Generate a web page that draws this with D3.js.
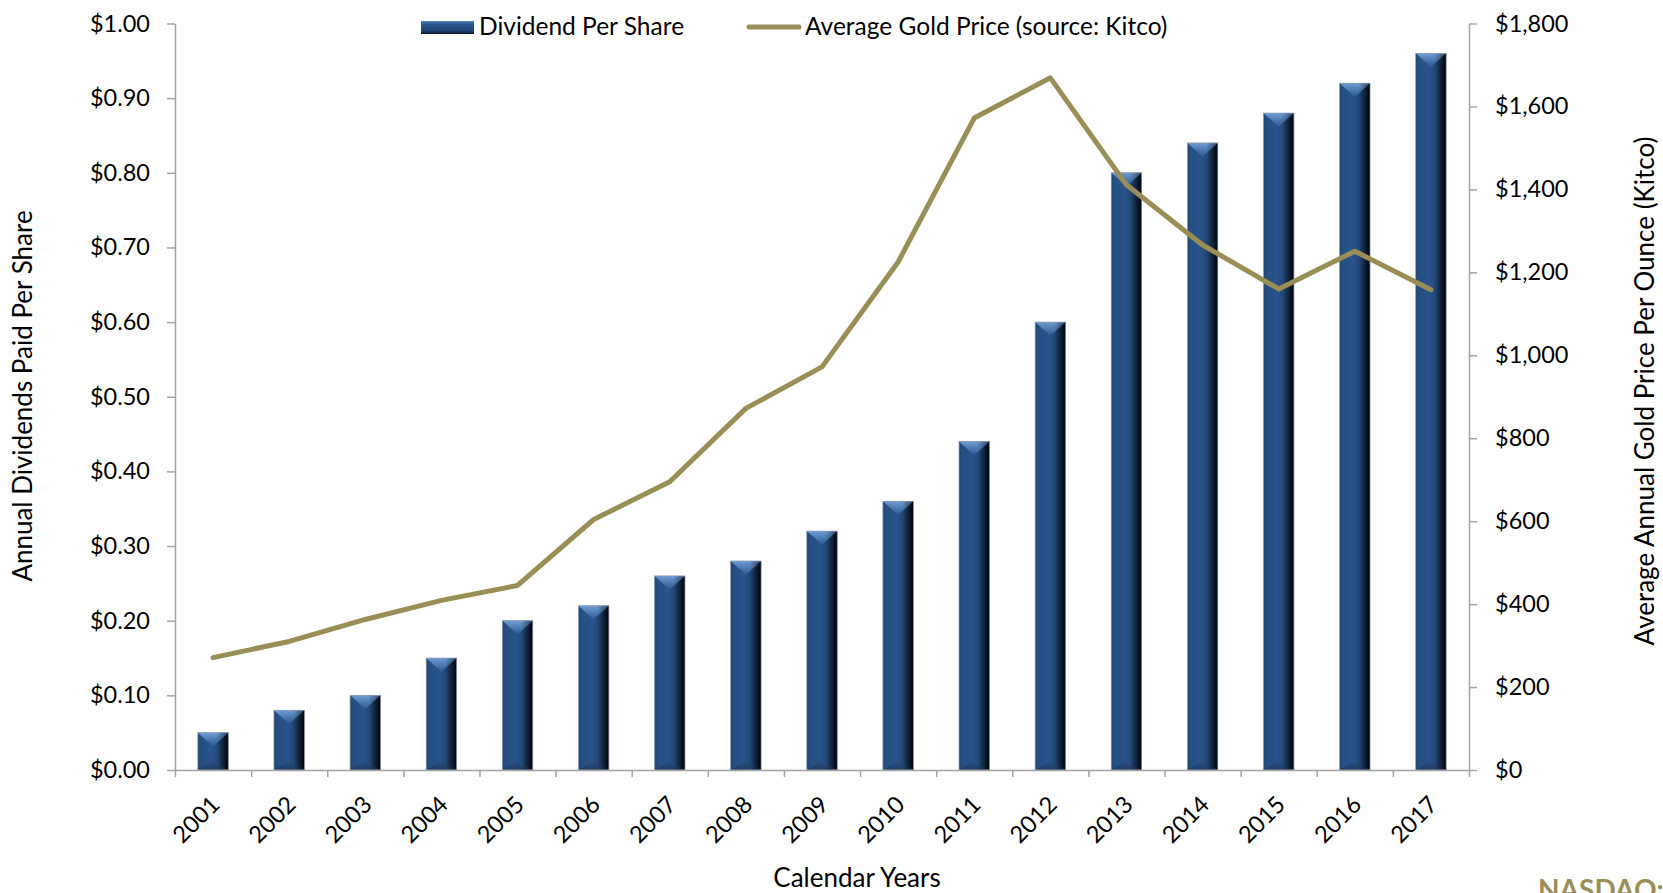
<!DOCTYPE html>
<html>
<head>
<meta charset="utf-8">
<script src="https://cdn.jsdelivr.net/npm/d3@7"></script>
<style>
    body { margin: 0; background: #ffffff; }
    svg text { font-family: Lato, "Open Sans", sans-serif; fill: #000; }
</style>
</head>
<body>
<svg id="chart" width="1663" height="893"></svg>
<script>
// data
var years = ["2001", "2002", "2003", "2004", "2005", "2006", "2007", "2008", "2009",
             "2010", "2011", "2012", "2013", "2014", "2015", "2016", "2017"];
var dividends = [0.05, 0.08, 0.10, 0.15, 0.20, 0.22, 0.26, 0.28, 0.32,
                 0.36, 0.44, 0.60, 0.80, 0.84, 0.88, 0.92, 0.96];
var goldPrice = [271, 310, 363, 409, 445, 604, 695, 872, 972,
                 1225, 1572, 1669, 1411, 1266, 1160, 1251, 1158];
var leftTicks = [0, 0.1, 0.2, 0.3, 0.4, 0.5, 0.6, 0.7, 0.8, 0.9, 1.0];
var rightTicks = [0, 200, 400, 600, 800, 1000, 1200, 1400, 1600, 1800];

var plotLeft = 175, plotRight = 1469, plotTop = 23.5, plotBottom = 770;
var gold = "#9a8e57";
var axisGray = "#a3a3a3";
var tickFont = "23.5px";

var svg = d3.select("#chart");
var defs = svg.append("defs");

// bar body: horizontal shading, dark on the right edge
var gBody = defs.append("linearGradient").attr("id", "barBody")
    .attr("x1", 0).attr("x2", 1).attr("y1", 0).attr("y2", 0);
[["0%", "#22466f"], ["12%", "#264f83"], ["45%", "#29548a"], ["68%", "#214574"],
 ["86%", "#142b4a"], ["100%", "#050c17"]].forEach(function (s) {
    gBody.append("stop").attr("offset", s[0]).attr("stop-color", s[1]);
});

// top bevel chevron
var gTop = defs.append("linearGradient").attr("id", "barTop")
    .attr("x1", 0).attr("x2", 0).attr("y1", 0).attr("y2", 1);
gTop.append("stop").attr("offset", "0%").attr("stop-color", "#6f9cd3");
gTop.append("stop").attr("offset", "100%").attr("stop-color", "#2b5890");

// bottom bevel
var gBot = defs.append("linearGradient").attr("id", "barBot")
    .attr("x1", 0).attr("x2", 0).attr("y1", 0).attr("y2", 1);
gBot.append("stop").attr("offset", "0%").attr("stop-color", "#2a5489");
gBot.append("stop").attr("offset", "100%").attr("stop-color", "#1b3558");

// overlay that darkens the right side (also over the chevron)
var gShade = defs.append("linearGradient").attr("id", "barShade")
    .attr("x1", 0).attr("x2", 1).attr("y1", 0).attr("y2", 0);
gShade.append("stop").attr("offset", "0%").attr("stop-color", "#000").attr("stop-opacity", 0);
gShade.append("stop").attr("offset", "62%").attr("stop-color", "#000").attr("stop-opacity", 0);
gShade.append("stop").attr("offset", "100%").attr("stop-color", "#000").attr("stop-opacity", 0.55);

// legend swatch
var gLeg = defs.append("linearGradient").attr("id", "legSwatch")
    .attr("x1", 0).attr("x2", 0).attr("y1", 0).attr("y2", 1);
[["0%", "#5683bd"], ["25%", "#2a5690"], ["70%", "#22477a"], ["100%", "#0b1930"]].forEach(function (s) {
    gLeg.append("stop").attr("offset", s[0]).attr("stop-color", s[1]);
});

var x = d3.scaleBand()
    .domain(years)
    .range([plotLeft, plotRight])
    .paddingInner(0.6)
    .paddingOuter(0.3);

var yLeft = d3.scaleLinear().domain([0, 1]).range([plotBottom, plotTop]);
var yRight = d3.scaleLinear().domain([0, 1800]).range([plotBottom, plotTop]);

// bars
var bars = svg.append("g").selectAll("g")
    .data(years)
    .enter().append("g");

bars.each(function (yr, i) {
    var g = d3.select(this);
    var bx = x(yr), bw = x.bandwidth();
    var by = yLeft(dividends[i]), bh = plotBottom - by;
    var chev = Math.min(bw * 0.45, bh * 0.5);
    var botH = Math.min(bw * 0.32, bh * 0.3);

    g.append("rect")
        .attr("x", bx).attr("y", by)
        .attr("width", bw).attr("height", bh)
        .attr("fill", "url(#barBody)");
    g.append("polygon")
        .attr("points", [[bx, by], [bx + bw, by], [bx + bw / 2, by + chev]].join(" "))
        .attr("fill", "url(#barTop)");
    g.append("polygon")
        .attr("points", [[bx, plotBottom], [bx + bw / 2, plotBottom - botH], [bx + bw, plotBottom]].join(" "))
        .attr("fill", "url(#barBot)")
        .attr("opacity", 0.8);
    g.append("rect")
        .attr("x", bx).attr("y", by)
        .attr("width", bw).attr("height", bh)
        .attr("fill", "url(#barShade)")
        .attr("stroke", "#8b9bb1")
        .attr("stroke-width", 0.7);
});

// axes
var leftAxis = svg.append("g")
    .attr("transform", "translate(" + plotLeft + ",0)")
    .call(d3.axisLeft(yLeft)
        .tickValues(leftTicks)
        .tickFormat(d3.format("$.2f"))
        .tickSize(8)
        .tickSizeOuter(0)
        .tickPadding(17));

var rightAxis = svg.append("g")
    .attr("transform", "translate(" + plotRight + ",0)")
    .call(d3.axisRight(yRight)
        .tickValues(rightTicks)
        .tickFormat(d3.format("$,.0f"))
        .tickSize(8)
        .tickSizeOuter(0)
        .tickPadding(18));

// category boundary ticks along the bottom
var edge = d3.scaleLinear().domain([0, years.length]).range([plotLeft, plotRight]);
var bottomAxis = svg.append("g")
    .attr("transform", "translate(0," + plotBottom + ")")
    .call(d3.axisBottom(edge)
        .tickValues(d3.range(0, years.length + 1))
        .tickFormat("")
        .tickSize(7)
        .tickSizeOuter(0));

[leftAxis, rightAxis, bottomAxis].forEach(function (a) {
    a.selectAll("path, line").attr("stroke", axisGray).attr("stroke-width", 1.5);
    a.selectAll("text").style("font-size", tickFont).attr("fill", "#000");
});

// rotated year labels
svg.append("g").selectAll("text")
    .data(years)
    .enter().append("text")
    .attr("transform", function (d) {
        return "translate(" + (x(d) + x.bandwidth() / 2 + 8) + ",806) rotate(-45)";
    })
    .attr("text-anchor", "end")
    .style("font-size", tickFont)
    .text(function (d) { return d; });

// gold price line
var line = d3.line()
    .x(function (d, i) { return x(years[i]) + x.bandwidth() / 2; })
    .y(function (d) { return yRight(d); });

svg.append("path")
    .datum(goldPrice)
    .attr("d", line)
    .attr("fill", "none")
    .attr("stroke", gold)
    .attr("stroke-width", 5)
    .attr("stroke-linejoin", "round")
    .attr("stroke-linecap", "round");

// legend
var legend = svg.append("g");
legend.append("rect")
    .attr("x", 421).attr("y", 21)
    .attr("width", 53).attr("height", 13)
    .attr("fill", "url(#legSwatch)");
legend.append("text")
    .attr("x", 479).attr("y", 35)
    .style("font-size", "24.5px")
    .text("Dividend Per Share");
legend.append("line")
    .attr("x1", 749).attr("x2", 799)
    .attr("y1", 27).attr("y2", 27)
    .attr("stroke", gold)
    .attr("stroke-width", 5)
    .attr("stroke-linecap", "round");
legend.append("text")
    .attr("x", 805).attr("y", 35)
    .style("font-size", "24.5px")
    .text("Average Gold Price (source: Kitco)");

// axis titles
svg.append("text")
    .attr("transform", "translate(23,396) rotate(-90)")
    .attr("text-anchor", "middle")
    .attr("dy", "0.35em")
    .style("font-size", "26px")
    .text("Annual Dividends Paid Per Share");

svg.append("text")
    .attr("transform", "translate(1645,391) rotate(-90)")
    .attr("text-anchor", "middle")
    .attr("dy", "0.35em")
    .style("font-size", "26px")
    .text("Average Annual Gold Price Per Ounce (Kitco)");

svg.append("text")
    .attr("x", 857).attr("y", 887)
    .attr("text-anchor", "middle")
    .style("font-size", "26px")
    .text("Calendar Years");

// ticker, cut off by the bottom edge
svg.append("text")
    .attr("x", 1538).attr("y", 900)
    .style("font-size", "28px")
    .style("font-weight", "bold")
    .style("fill", gold)
    .text("NASDAQ:");
</script>
</body>
</html>
